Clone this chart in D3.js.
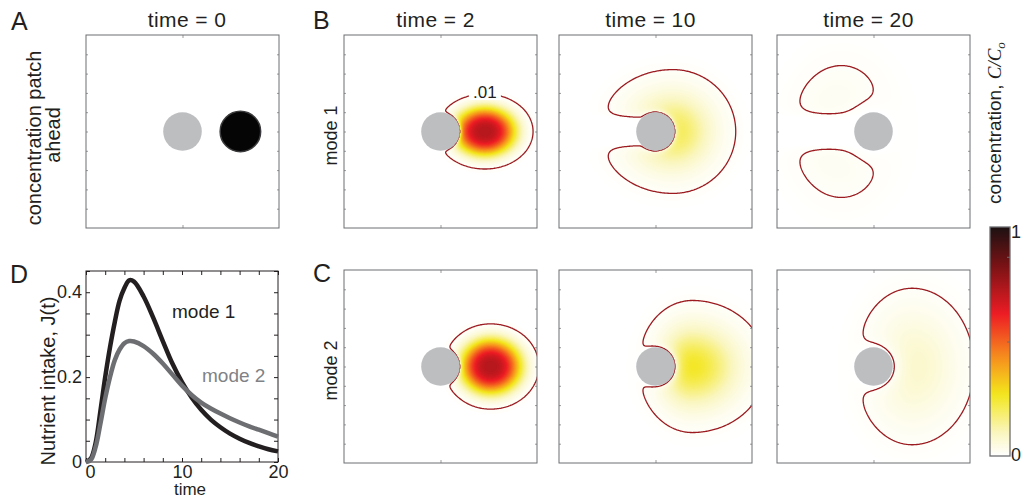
<!DOCTYPE html>
<html>
<head>
<meta charset="utf-8">
<script src="https://cdn.jsdelivr.net/npm/d3@7"></script>
<style>
  body { margin: 0; background: #fff; }
  svg { display: block; font-family: "Liberation Sans", Arial, sans-serif; }
</style>
</head>
<body>
<div id="fig"></div>
<script>
// ---- data ------------------------------------------------------------------
// panel D : nutrient intake J(t)
const intakeTime  = [0, 0.5, 1, 1.5, 2, 2.5, 3, 3.5, 4, 4.5, 5, 6, 7, 8, 9, 10, 11, 12, 13, 14, 15, 16, 17, 18, 19, 20];
const intakeMode1 = [0, 0.008, 0.045, 0.12, 0.2, 0.27, 0.33, 0.38, 0.41, 0.428, 0.425, 0.39, 0.34, 0.285, 0.232, 0.188, 0.152, 0.123, 0.1, 0.082, 0.067, 0.055, 0.045, 0.037, 0.03, 0.025];
const intakeMode2 = [0, 0.005, 0.035, 0.09, 0.15, 0.2, 0.24, 0.265, 0.28, 0.285, 0.284, 0.273, 0.255, 0.232, 0.206, 0.18, 0.158, 0.14, 0.126, 0.114, 0.103, 0.093, 0.084, 0.076, 0.068, 0.06];

// panels B, C : concentration patch around the cell (units of cell radius)
const panelTimes = [2, 10, 20];
const modeNames  = ['mode 1', 'mode 2'];
const blobPeak        = [[0.72, 0.22, 0.035], [0.72, 0.26, 0.085]];
const blobCentre      = [[2.3, 0.9, -1.6],    [2.6, 1.9, 2.0]];
const blobSpreadLeft  = [[1.24, 1.55, 1.7],   [1.19, 1.1, 1.45]];
const blobSpreadRight = [[1.22, 1.31, 1.7],   [1.22, 1.5, 1.55]];
const blobSpreadY     = [[0.95, 1.29, 2.2],   [1.08, 1.34, 1.96]];
const blobShape       = [[1.5, 1, 1],         [1.5, 1, 1]];
const uptakeLength    = [[0.08, 0.12, 0.9],   [0.08, 0.2, 0.5]];
const wakeRadius      = [[0.7, 0.7, 0.7],     [0, 0, 0]];
const wakeSoftness    = [[0.15, 0.4, 0.4],    [0, 0, 0]];   // 0 = no wake behind the cell
const contourLevel = 0.01;
const contourLabel = '.01';

// panel A
const cellPos  = [0, 0];
const patchPos = [3, 0];
const patchRadius = 1.05;

// colour map
const colourStops = [0, 0.1, 0.27, 0.42, 0.62, 0.85, 1];
const colourRamp  = ['#ffffff', '#faf6c0', '#f3e61c', '#f7941d', '#ed1c24', '#6e1214', '#1c1112'];
const cbarTicks  = [0.5, 0.87];
const cbarLabels = [0, 1];

// ---- layout --------------------------------------------------------------------
const W = 1021, H = 501;
const boxSize = 193;
const colLefts = [344, 559, 777];
const rowTops  = [35, 270];

const svg = d3.select('#fig').append('svg')
  .attr('width', W).attr('height', H)
  .attr('viewBox', [0, 0, W, H]);
const defs = svg.append('defs');

const colour = d3.scaleLinear().domain(colourStops).range(colourRamp)
  .interpolate(d3.interpolateRgb).clamp(true);

function label(x, y, txt, size, opts = {}) {
  const t = svg.append('text')
    .attr('x', x).attr('y', y)
    .attr('font-size', size)
    .attr('fill', opts.fill || '#231f20')
    .attr('text-anchor', opts.anchor || 'start')
    .text(txt);
  if (opts.spacing) t.attr('letter-spacing', opts.spacing);
  if (opts.rotate) t.attr('transform', `rotate(-90,${x},${y})`);
  return t;
}

function frame(g, xS, yS) {
  const ticksY = d3.range(-4, 5);
  g.append('g').attr('transform', `translate(${xS(-5)},0)`)
    .call(d3.axisLeft(yS).tickValues(ticksY).tickSize(-2).tickFormat(''));
  g.append('g').attr('transform', `translate(${xS(5)},0)`)
    .call(d3.axisRight(yS).tickValues(ticksY).tickSize(-2).tickFormat(''));
  g.append('g').attr('transform', `translate(0,${yS(5)})`)
    .call(d3.axisTop(xS).tickValues([0]).tickSize(-3).tickFormat(''));
  g.append('g').attr('transform', `translate(0,${yS(-5)})`)
    .call(d3.axisBottom(xS).tickValues([0]).tickSize(-3).tickFormat(''));
  g.selectAll('.domain').remove();
  g.selectAll('.tick line').attr('stroke', '#9a9b9d');
  g.append('rect')
    .attr('x', xS(-5)).attr('y', yS(5))
    .attr('width', xS(5) - xS(-5)).attr('height', yS(-5) - yS(5))
    .attr('fill', 'none').attr('stroke', '#6d6e71').attr('stroke-width', 1);
}

function drawCell(g, xS, yS) {
  g.append('circle')
    .attr('cx', xS(cellPos[0])).attr('cy', yS(cellPos[1]))
    .attr('r', xS(1) - xS(0))
    .attr('fill', '#bcbec0');
}

// ---- panel A -------------------------------------------------------------------
{
  const xS = d3.scaleLinear().domain([-5, 5]).range([86, 86 + boxSize]);
  const yS = d3.scaleLinear().domain([-5, 5]).range([rowTops[0] + boxSize, rowTops[0]]);
  const g = svg.append('g');
  frame(g, xS, yS);
  drawCell(g, xS, yS);
  g.append('circle')
    .attr('cx', xS(patchPos[0])).attr('cy', yS(patchPos[1]))
    .attr('r', (xS(1) - xS(0)) * patchRadius)
    .attr('fill', '#050505').attr('stroke', '#3a3a3c').attr('stroke-width', 1.5);
  label(187, 27, 'time = 0', 21, { anchor: 'middle', spacing: 0.4 });
  label(41, 138, 'concentration patch', 20, { anchor: 'middle', rotate: true });
  label(60, 135, 'ahead', 20, { anchor: 'middle', rotate: true });
}

// ---- panels B, C ---------------------------------------------------------------
function field(m, k, x, y) {
  const r = Math.hypot(x, y);
  if (r <= 1) return 0;
  const x0 = blobCentre[m][k];
  const sx = x < x0 ? blobSpreadLeft[m][k] : blobSpreadRight[m][k];
  const sy = blobSpreadY[m][k];
  const q = ((x - x0) / sx) ** 2 + (y / sy) ** 2;
  const g = blobPeak[m][k] * Math.exp(-0.5 * Math.pow(q, blobShape[m][k]));
  const uptake = 1 - Math.exp(-(r - 1) / uptakeLength[m][k]);
  let wake = 1;
  const lw = wakeSoftness[m][k];
  if (lw > 0) {
    const s = 1 / (1 + Math.exp(x / 0.3));
    wake = 1 - s * Math.exp(-Math.max(0, Math.abs(y) - wakeRadius[m][k]) / lw);
  }
  return g * uptake * wake;
}

const gridN = 241, gridMin = -6, gridStep = 0.05;

modeNames.forEach((mode, m) => {
  panelTimes.forEach((time, k) => {
    const left = colLefts[k], top = rowTops[m];
    const xS = d3.scaleLinear().domain([-5, 5]).range([left, left + boxSize]);
    const yS = d3.scaleLinear().domain([-5, 5]).range([top + boxSize, top]);

    const values = new Float64Array(gridN * gridN);
    for (let j = 0; j < gridN; j++) {
      for (let i = 0; i < gridN; i++) {
        values[j * gridN + i] = field(m, k, gridMin + i * gridStep, gridMin + j * gridStep);
      }
    }
    const maxV = d3.max(values);
    const dv = maxV / 80;
    const levels = d3.range(0.002, maxV, dv);

    const proj = d3.geoTransform({
      point(px, py) {
        this.stream.point(xS(gridMin + (px - 0.5) * gridStep), yS(gridMin + (py - 0.5) * gridStep));
      }
    });
    const path = d3.geoPath(proj);

    const clipId = `clip-${m}-${k}`;
    defs.append('clipPath').attr('id', clipId)
      .append('rect').attr('x', left).attr('y', top).attr('width', boxSize).attr('height', boxSize);

    const g = svg.append('g');
    const heat = g.append('g').attr('clip-path', `url(#${clipId})`);
    heat.append('rect').attr('x', left).attr('y', top).attr('width', boxSize).attr('height', boxSize).attr('fill', '#fff');

    const bands = d3.contours().size([gridN, gridN]).thresholds(levels)(values);
    heat.selectAll('path.band')
      .data(bands)
      .join('path')
      .attr('class', 'band')
      .attr('d', path)
      .attr('fill', d => colour(d.value + dv / 2));

    const line = d3.contours().size([gridN, gridN]).thresholds([contourLevel])(values)[0];
    heat.append('path')
      .attr('d', path(line))
      .attr('fill', 'none')
      .attr('stroke', '#9b1b20')
      .attr('stroke-width', 1.3);

    // contour label on the first panel, at the top of the line
    if (m === 0 && k === 0) {
      let best = null;
      line.coordinates.forEach(poly => poly.forEach(ring => ring.forEach(p => {
        const px = xS(gridMin + (p[0] - 0.5) * gridStep), py = yS(gridMin + (p[1] - 0.5) * gridStep);
        if (!best || py < best[1]) best = [px, py];
      })));
      heat.append('rect')
        .attr('x', best[0] - 16).attr('y', best[1] - 10)
        .attr('width', 32).attr('height', 16).attr('fill', '#fff');
      heat.append('text')
        .attr('x', best[0]).attr('y', best[1] + 4)
        .attr('text-anchor', 'middle')
        .attr('font-size', 17)
        .attr('fill', '#231f20')
        .text(contourLabel);
    }

    drawCell(g, xS, yS);
    frame(g, xS, yS);

    if (m === 0) label(left + boxSize / 2 - 5, 27, `time = ${time}`, 21, { anchor: 'middle', spacing: 0.4 });
    if (k === 0) label(337, top + boxSize / 2 + 4, mode, 18, { anchor: 'middle', rotate: true });
  });
});

// panel letters
label(11, 30, 'A', 25);
label(313, 29, 'B', 25);
label(313, 282, 'C', 25);
label(10, 283, 'D', 25);

// ---- colour bar ----------------------------------------------------------------
{
  const cS = d3.scaleLinear().domain([0, 1]).range([456, 227]);
  const grad = defs.append('linearGradient').attr('id', 'cbar')
    .attr('x1', 0).attr('y1', 1).attr('x2', 0).attr('y2', 0);
  grad.selectAll('stop').data(d3.range(0, 1.0001, 0.02)).join('stop')
    .attr('offset', d => d).attr('stop-color', d => colour(d));
  svg.append('rect')
    .attr('x', 990).attr('y', cS(1)).attr('width', 20).attr('height', cS(0) - cS(1))
    .attr('fill', 'url(#cbar)').attr('stroke', '#6d6e71').attr('stroke-width', 1.3);
  const ax = svg.append('g').attr('transform', 'translate(1010,0)')
    .call(d3.axisRight(cS).tickValues(cbarTicks).tickSize(-3).tickFormat(''));
  ax.select('.domain').remove();
  ax.selectAll('.tick line').attr('stroke', '#6d6e71');
  cbarLabels.forEach(v => {
    label(1011, cS(v), String(v), 18).attr('dy', v === 1 ? '0.6em' : '0.25em');
  });
  const t = label(1001, 123, 'concentration, ', 19, { anchor: 'middle', rotate: true });
  t.append('tspan').attr('font-style', 'italic').attr('font-family', '"Liberation Serif", serif').text('C/C');
  t.append('tspan').attr('font-style', 'italic').attr('font-family', '"Liberation Serif", serif')
    .attr('font-size', 13).attr('dy', 4).text('o');
}

// ---- panel D -------------------------------------------------------------------
{
  const xD = d3.scaleLinear().domain([0, 20]).range([86, 278]);
  const yD = d3.scaleLinear().domain([0, 0.45]).range([462, 271]);
  const g = svg.append('g');
  const fmt = d => d === 0 ? '0' : d3.format('.1f')(d);

  g.append('g').attr('transform', `translate(${xD(0)},0)`)
    .call(d3.axisLeft(yD).tickValues(d3.range(0, 0.451, 0.05)).tickSize(-4).tickPadding(4)
      .tickFormat(d => [0, 0.2, 0.4].some(v => Math.abs(v - d) < 1e-9) ? fmt(d) : ''));
  g.append('g').attr('transform', `translate(${xD(20)},0)`)
    .call(d3.axisRight(yD).tickValues(d3.range(0, 0.451, 0.05)).tickSize(-4).tickFormat(''));
  const bottom = g.append('g').attr('transform', `translate(0,${yD(0)})`)
    .call(d3.axisBottom(xD).tickValues(d3.range(0, 21, 2)).tickSize(-4).tickPadding(3)
      .tickFormat(d => d % 10 === 0 ? d : ''));
  g.append('g').attr('transform', `translate(0,${yD(0.45)})`)
    .call(d3.axisTop(xD).tickValues(d3.range(0, 21, 2)).tickSize(-4).tickFormat(''));
  g.selectAll('.domain').remove();
  g.selectAll('.tick line').attr('stroke', '#231f20');
  g.selectAll('.tick text')
    .attr('font-size', 18).attr('fill', '#231f20')
    .attr('font-family', '"Liberation Sans", Arial, sans-serif');
  bottom.selectAll('.tick text').filter(d => d === 0).attr('dx', 4);

  g.append('rect')
    .attr('x', xD(0)).attr('y', yD(0.45))
    .attr('width', xD(20) - xD(0)).attr('height', yD(0) - yD(0.45))
    .attr('fill', 'none').attr('stroke', '#231f20').attr('stroke-width', 1);

  const lineGen = d3.line()
    .x((d, i) => xD(intakeTime[i]))
    .y(d => yD(d))
    .curve(d3.curveCatmullRom.alpha(0.5));
  g.append('path').attr('d', lineGen(intakeMode1))
    .attr('fill', 'none').attr('stroke', '#231f20').attr('stroke-width', 4.5);
  g.append('path').attr('d', lineGen(intakeMode2))
    .attr('fill', 'none').attr('stroke', '#6d6e71').attr('stroke-width', 4.5);

  label(172, 318, modeNames[0], 19);
  label(202, 382, modeNames[1], 19, { fill: '#808285' });
  label(55, 381, 'Nutrient intake, J(t)', 20, { anchor: 'middle', rotate: true });
  label(190, 495, 'time', 17, { anchor: 'middle' });
}
</script>
</body>
</html>
